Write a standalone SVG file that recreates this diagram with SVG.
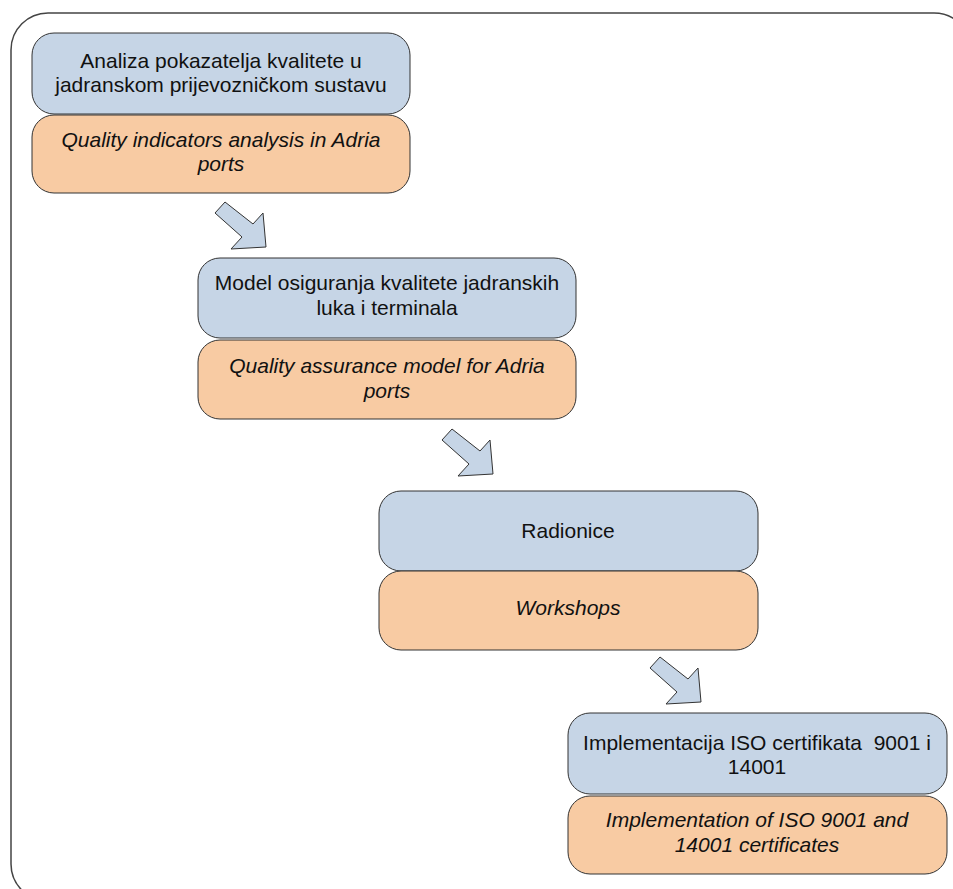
<svg xmlns="http://www.w3.org/2000/svg" xmlns:xlink="http://www.w3.org/1999/xlink" width="953" height="889" viewBox="0 0 953 889">
<style>
.frame{fill:none;stroke:#444;stroke-width:1.5}
.blue{fill:#c6d5e6;stroke:#333;stroke-width:1}
.orange{fill:#f8cba3;stroke:#333;stroke-width:1}
.arrow{fill:#c6d5e6;stroke:#333;stroke-width:1}
text{font-family:"Liberation Sans",Arial,sans-serif;font-size:21px;fill:#111;text-anchor:middle}
.it{font-style:italic}
</style>
<defs>
<path id="blk" d="M0,0 L10,-11 L38,11 L48,0 L51,34 L16,36 L27,24 Z"/>
</defs>
<rect class="frame" x="11" y="13" width="960" height="888" rx="37" ry="37"/>
<g id="connectors">
<use xlink:href="#blk" class="arrow" transform="translate(215,213)"/>
<use xlink:href="#blk" class="arrow" transform="translate(442,440)"/>
<use xlink:href="#blk" class="arrow" transform="translate(650,668)"/>
</g>
<g id="node1">
<rect class="blue" x="32" y="33" width="378" height="81" rx="22"/>
<text x="221" y="68">Analiza pokazatelja kvalitete u</text>
<text x="221" y="92">jadranskom prijevozničkom sustavu</text>
</g>
<g id="node1en">
<rect class="orange" x="32" y="115" width="378" height="78" rx="22"/>
<text class="it" x="221" y="147">Quality indicators analysis in Adria</text>
<text class="it" x="221" y="171">ports</text>
</g>
<g id="node2">
<rect class="blue" x="198" y="258" width="378" height="80" rx="22"/>
<text x="387" y="290">Model osiguranja kvalitete jadranskih</text>
<text x="387" y="315">luka i terminala</text>
</g>
<g id="node2en">
<rect class="orange" x="198" y="340" width="378" height="79" rx="22"/>
<text class="it" x="387" y="373">Quality assurance model for Adria</text>
<text class="it" x="387" y="398">ports</text>
</g>
<g id="node3">
<rect class="blue" x="379" y="491" width="379" height="80" rx="22"/>
<text x="568" y="538">Radionice</text>
</g>
<g id="node3en">
<rect class="orange" x="379" y="571" width="379" height="79" rx="22"/>
<text class="it" x="568" y="615">Workshops</text>
</g>
<g id="node4">
<rect class="blue" x="568" y="713" width="379" height="81" rx="22"/>
<text x="757" y="750" xml:space="preserve">Implementacija ISO certifikata  9001 i</text>
<text x="757" y="774">14001</text>
</g>
<g id="node4en">
<rect class="orange" x="568" y="796" width="379" height="78" rx="22"/>
<text class="it" x="757" y="827">Implementation of ISO 9001 and</text>
<text class="it" x="757" y="852">14001 certificates</text>
</g>
</svg>
